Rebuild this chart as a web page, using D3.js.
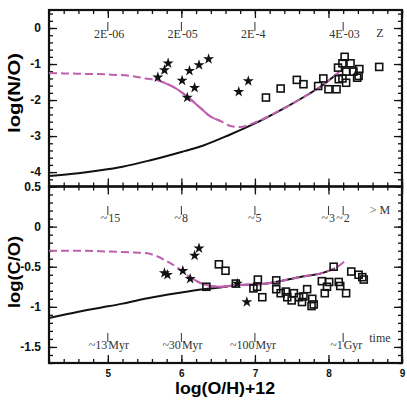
<!DOCTYPE html>
<html>
<head>
<meta charset="utf-8">
<script src="https://cdn.jsdelivr.net/npm/d3@7"></script>
<style>
  body { margin: 0; background: #fff; }
  svg { display: block; }
  .tick text { font-family: "Liberation Sans", Arial, sans-serif; font-weight: bold; fill: #111; }
  .anno { font-family: "Liberation Serif", "DejaVu Serif", serif; font-size: 12px; fill: #333; }
</style>
</head>
<body>
<svg width="407" height="403"></svg>
<script>
// ---- data ----
// top panel: log(N/O)
var noStarsX = [5.68, 5.77, 5.82, 6.01, 6.08, 6.18, 6.11, 6.24, 6.37, 6.78, 6.91];
var noStarsY = [-1.37, -1.17, -0.98, -1.46, -1.93, -1.66, -1.19, -1.03, -0.86, -1.77, -1.47];
var noSquaresX = [7.15, 7.35, 7.57, 7.66, 7.86, 7.93, 8.00, 8.11, 8.14, 8.13, 8.22, 8.19, 8.30, 8.24, 8.34, 8.42, 8.39, 8.24, 8.19, 8.41, 8.69];
var noSquaresY = [-1.93, -1.68, -1.44, -1.56, -1.61, -1.40, -1.70, -1.70, -1.42, -1.10, -0.80, -0.98, -0.98, -1.21, -1.21, -1.14, -1.38, -1.52, -1.40, -1.33, -1.08];
var noBlackX = [4.2, 4.6, 4.9, 5.2, 5.58, 6.0, 6.3, 6.65, 7.0, 7.35, 7.71, 7.89, 8.12];
var noBlackY = [-4.11, -4.03, -3.95, -3.85, -3.67, -3.44, -3.26, -2.97, -2.65, -2.28, -1.86, -1.63, -1.26];
var noMagX = [4.2, 4.6, 5.0, 5.3, 5.51, 5.69, 5.92, 6.1, 6.26, 6.39, 6.53, 6.67, 6.8, 6.98, 7.35, 7.71, 7.89, 8.12, 8.23];
var noMagY = [-1.25, -1.27, -1.29, -1.33, -1.40, -1.46, -1.67, -1.94, -2.22, -2.45, -2.58, -2.72, -2.75, -2.64, -2.28, -1.86, -1.63, -1.26, -1.07];

// bottom panel: log(C/O)
var coStarsX = [5.77, 5.81, 6.02, 6.12, 6.18, 6.24, 6.76, 6.89];
var coStarsY = [-0.58, -0.60, -0.55, -0.65, -0.36, -0.27, -0.71, -0.94];
var coSquaresX = [6.34, 6.51, 6.60, 6.74, 7.04, 7.03, 6.98, 7.10, 7.29, 7.29, 7.35, 7.42, 7.44, 7.50, 7.53, 7.60, 7.64, 7.71, 7.66, 7.78, 7.77, 7.80, 7.91, 7.95, 7.98, 8.01, 8.07, 8.14, 8.16, 8.24, 8.31, 8.41, 8.46, 8.48];
var coSquaresY = [-0.75, -0.47, -0.55, -0.71, -0.66, -0.75, -0.77, -0.88, -0.67, -0.78, -0.83, -0.81, -0.88, -0.92, -0.83, -0.88, -0.94, -0.78, -0.87, -0.90, -0.99, -0.97, -0.68, -0.83, -0.75, -0.69, -0.50, -0.69, -0.74, -0.83, -0.56, -0.60, -0.63, -0.66];
var coBlackX = [4.2, 4.6, 4.9, 5.2, 5.5, 5.8, 6.0, 6.3, 6.6, 6.73, 7.05, 7.28, 7.6, 7.91, 8.09];
var coBlackY = [-1.14, -1.06, -1.01, -0.96, -0.90, -0.85, -0.82, -0.78, -0.75, -0.73, -0.72, -0.69, -0.63, -0.58, -0.52];
var coMagX = [4.2, 4.6, 5.0, 5.3, 5.51, 5.67, 5.78, 5.96, 6.1, 6.28, 6.51, 6.73, 7.05, 7.28, 7.6, 7.91, 8.09, 8.25];
var coMagY = [-0.30, -0.30, -0.31, -0.32, -0.33, -0.37, -0.42, -0.52, -0.62, -0.71, -0.75, -0.73, -0.72, -0.69, -0.63, -0.58, -0.52, -0.41];

// axis ticks
var xMajor = [5, 6, 7, 8, 9];
var noMajor = [0, -1, -2, -3, -4];
var coMajor = [0.5, 0, -0.5, -1, -1.5];

// annotation rows: position on x, text before and after the mark
var zAnno = [{at: 5, pre: "2E", post: "-06"}, {at: 6, pre: "2E", post: "-05"}, {at: 7, pre: "2E", post: "-4"}, {at: 8.2, pre: "4E", post: "-03"}];
var massAnno = [{at: 5, pre: "~", post: "15"}, {at: 6, pre: "~", post: "8"}, {at: 7, pre: "~", post: "5"}, {at: 8.0, pre: "~", post: "3"}, {at: 8.2, pre: "~", post: "2"}];
var timeAnno = [{at: 5, pre: "~13", post: "Myr"}, {at: 6, pre: "~30", post: "Myr"}, {at: 7, pre: "~100", post: " Myr"}, {at: 8.2, pre: "~1 ", post: "Gyr"}];

var MAGENTA = "#c05fae";

var svg = d3.select("svg");
var left = 49, right = 402, top1 = 10, mid = 186.5, bot = 363;

var x = d3.scaleLinear().domain([4.2, 9]).range([left, right]);
var yTop = d3.scaleLinear().domain([0.5, -4.4]).range([top1, mid]);
var yBot = d3.scaleLinear().domain([0.5, -1.7]).range([mid, bot]);

function range(a, b, step) {
  var out = [];
  for (var v = a; v <= b + 1e-9; v += step) out.push(+v.toFixed(3));
  return out;
}
var xMinor = range(4.2, 9, 0.2);

function drawFrame(y, y0, y1, yMinor, yMajor) {
  var g = svg.append("g");
  // minor ticks on all four sides
  g.append("g").attr("transform", "translate(" + left + ",0)")
    .call(d3.axisLeft(y).tickValues(yMinor).tickSize(-4).tickFormat(""));
  g.append("g").attr("transform", "translate(" + right + ",0)")
    .call(d3.axisRight(y).tickValues(yMinor).tickSize(-4).tickFormat(""));
  g.append("g").attr("transform", "translate(0," + y0 + ")")
    .call(d3.axisTop(x).tickValues(xMinor).tickSize(-4).tickFormat(""));
  g.append("g").attr("transform", "translate(0," + y1 + ")")
    .call(d3.axisBottom(x).tickValues(xMinor).tickSize(-4).tickFormat(""));
  // major ticks, labels on the left only
  g.append("g").attr("transform", "translate(" + left + ",0)")
    .call(d3.axisLeft(y).tickValues(yMajor).tickSize(-8).tickPadding(8)
      .tickFormat(function(d) { return String(d); }))
    .selectAll("text").style("font-size", "12px");
  g.append("g").attr("transform", "translate(" + right + ",0)")
    .call(d3.axisRight(y).tickValues(yMajor).tickSize(-8).tickFormat(""));
  g.append("g").attr("transform", "translate(0," + y0 + ")")
    .call(d3.axisTop(x).tickValues(xMajor).tickSize(-8).tickFormat(""));
  g.append("g").attr("transform", "translate(0," + y1 + ")")
    .call(d3.axisBottom(x).tickValues(xMajor).tickSize(-8).tickFormat(""));
  g.selectAll(".domain").remove();
  g.selectAll(".tick line").attr("stroke", "#111").attr("stroke-width", 1.3);
  g.append("rect").attr("x", left).attr("y", y0).attr("width", right - left).attr("height", y1 - y0)
    .attr("fill", "none").attr("stroke", "#111").attr("stroke-width", 2.2);
}

drawFrame(yTop, top1, mid, range(-4.4, 0.5, 0.2), noMajor);
drawFrame(yBot, mid, bot, range(-1.7, 0.5, 0.1), coMajor);

// x tick labels under the lower panel
svg.append("g").attr("transform", "translate(0," + bot + ")")
  .call(d3.axisBottom(x).tickValues(xMajor).tickSize(0).tickPadding(7).tickFormat(d3.format("d")))
  .call(function(g) { g.select(".domain").remove(); })
  .selectAll("text").style("font-size", "10px");

function zip(xs, ys) { return xs.map(function(v, i) { return [v, ys[i]]; }); }

function drawPanel(y, blackPts, magPts, solidFrom, solidTo, stars, squares) {
  var line = d3.line().x(function(d) { return x(d[0]); }).y(function(d) { return y(d[1]); }).curve(d3.curveMonotoneX);
  svg.append("path").datum(blackPts).attr("d", line)
    .attr("fill", "none").attr("stroke", "#111").attr("stroke-width", 2);
  svg.append("path").datum(magPts).attr("d", line)
    .attr("fill", "none").attr("stroke", MAGENTA).attr("stroke-width", 2).attr("stroke-dasharray", "8,4");
  svg.append("path").datum(magPts.filter(function(d) { return d[0] >= solidFrom && d[0] <= solidTo; })).attr("d", line)
    .attr("fill", "none").attr("stroke", MAGENTA).attr("stroke-width", 2);

  svg.append("g").selectAll("rect").data(squares).enter().append("rect")
    .attr("x", function(d) { return x(d[0]) - 3.5; })
    .attr("y", function(d) { return y(d[1]) - 3.5; })
    .attr("width", 7).attr("height", 7)
    .attr("fill", "none").attr("stroke", "#111").attr("stroke-width", 1.6);

  var star = d3.symbol().type(d3.symbolStar).size(38);
  svg.append("g").selectAll("path").data(stars).enter().append("path")
    .attr("d", star)
    .attr("transform", function(d) { return "translate(" + x(d[0]) + "," + y(d[1]) + ")"; })
    .attr("fill", "#111");
}

drawPanel(yTop, zip(noBlackX, noBlackY), zip(noMagX, noMagY), 5.6, 6.53,
  zip(noStarsX, noStarsY), zip(noSquaresX, noSquaresY));
drawPanel(yBot, zip(coBlackX, coBlackY), zip(coMagX, coMagY), 6.1, 7.5,
  zip(coStarsX, coStarsY), zip(coSquaresX, coSquaresY));

// annotation rows with small vertical marks
function annoRow(items, baseline, extra) {
  var g = svg.append("g");
  items.forEach(function(d) {
    var px = x(d.at);
    g.append("line").attr("x1", px).attr("x2", px).attr("y1", baseline - 16).attr("y2", baseline - 7)
      .attr("stroke", "#333").attr("stroke-width", 1);
    g.append("text").attr("class", "anno").attr("x", px - 0.5).attr("y", baseline)
      .attr("text-anchor", "end").text(d.pre);
    g.append("text").attr("class", "anno").attr("x", px + 0.5).attr("y", baseline)
      .attr("text-anchor", "start").text(d.post);
  });
  g.append("text").attr("class", "anno").attr("x", x(8.7)).attr("y", baseline + extra.dy)
    .attr("text-anchor", "middle").text(extra.text);
}
annoRow(zAnno, 38, {text: "Z", dy: -1});
annoRow(massAnno, 222, {text: "> M", dy: -8});
annoRow(timeAnno, 349, {text: "time", dy: -7});

// axis titles
var titleFont = "'Liberation Sans', Arial, sans-serif";
svg.append("text").attr("transform", "translate(20,93) rotate(-90)")
  .attr("text-anchor", "middle").style("font-family", titleFont).style("font-weight", "bold")
  .style("font-size", "16px").attr("textLength", 80).attr("lengthAdjust", "spacingAndGlyphs").text("log(N/O)");
svg.append("text").attr("transform", "translate(20,272) rotate(-90)")
  .attr("text-anchor", "middle").style("font-family", titleFont).style("font-weight", "bold")
  .style("font-size", "16px").attr("textLength", 72).attr("lengthAdjust", "spacingAndGlyphs").text("log(C/O)");
svg.append("text").attr("x", 225).attr("y", 394)
  .attr("text-anchor", "middle").style("font-family", titleFont).style("font-weight", "bold")
  .style("font-size", "16px").attr("textLength", 100).attr("lengthAdjust", "spacingAndGlyphs").text("log(O/H)+12");
</script>
</body>
</html>
